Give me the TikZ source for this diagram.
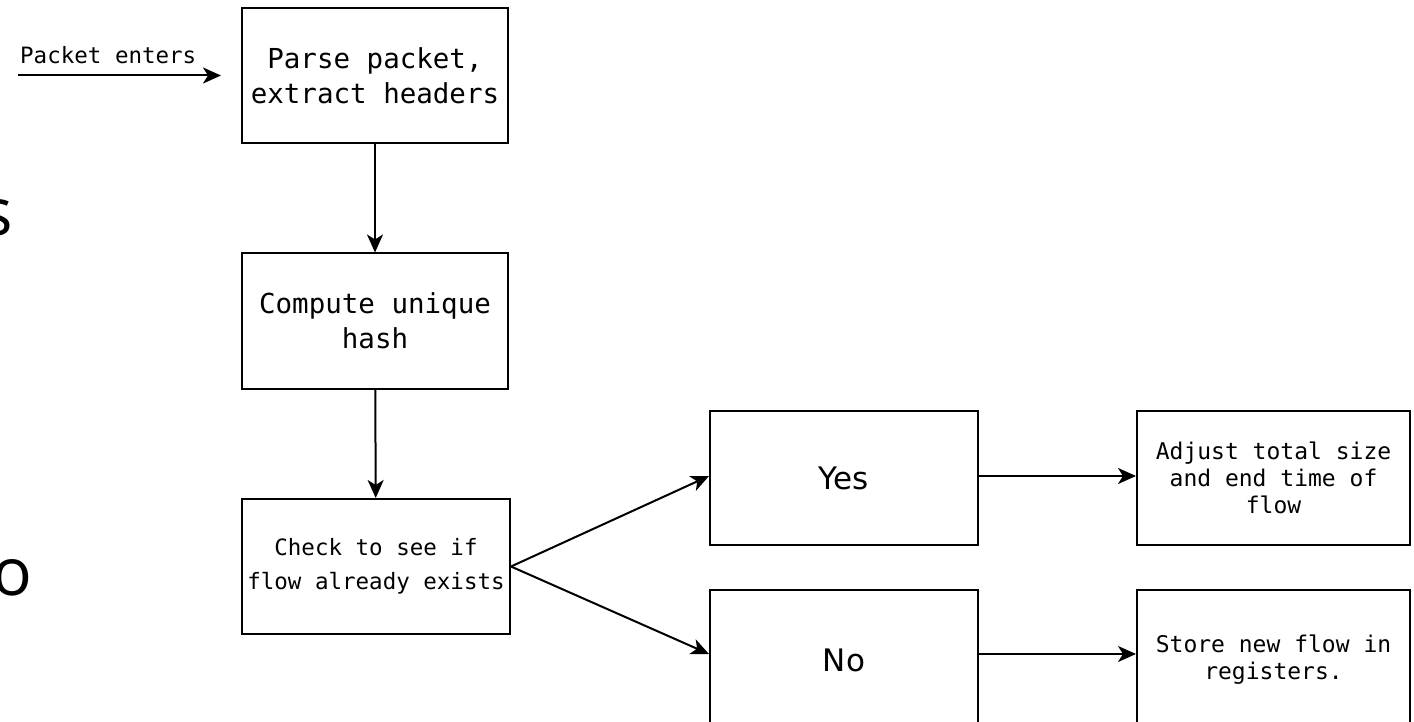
\documentclass[tikz,border=0pt]{standalone}
\usepackage{fontspec}
\usetikzlibrary{arrows.meta}
\newfontfamily\monof{DejaVu Sans Mono}
\newfontfamily\sansf{DejaVu Sans}
\newfontfamily\bigf{Open Sans}
\tikzset{
  box/.style={draw=black, line width=2pt, fill=white, inner sep=0pt, align=center, text=black},
  bigbox/.style={box, minimum width=266pt, minimum height=135pt, font=\monof\fontsize{27.5}{35}\selectfont},
  midbox/.style={box, minimum width=268pt, minimum height=135pt, font=\monof\fontsize{22.5}{34}\selectfont},
  smallbox/.style={box, minimum width=273pt, minimum height=134pt, font=\monof\fontsize{23}{27}\selectfont},
  ansbox/.style={box, minimum width=268pt, minimum height=134pt, font=\sansf\fontsize{31}{36}\selectfont},
  conn/.style={line width=2pt, draw=black, -{Stealth[length=18pt,width=16pt,inset=5pt]}},
  lbl/.style={font=\monof\fontsize{22.5}{27}\selectfont, text=black, inner sep=0pt},
  cut/.style={font=\bigf\fontsize{66}{70}\selectfont, inner sep=0pt, text=black}
}
\begin{document}
\begin{tikzpicture}[x=1pt, y=-1pt]
\useasboundingbox (0,0) rectangle (1414,722);
\fill[white] (0,0) rectangle (1414,722);

\node[cut, anchor=base east] (cs) at (13,236) {s};
\node[cut, anchor=base east] (co) at (33,595) {o};

\node[bigbox] (parse) at (375,75.5) {Parse packet,\\extract headers};
\node[bigbox] (hash) at (375,321) {Compute unique\\hash};
\node[midbox] (check) at (376,566.5) {Check to see if\\flow already exists};
\node[ansbox] (yes) at (844,478) {Yes};
\node[ansbox, minimum height=140pt] (no) at (844,660) {No};
\node[smallbox] (adjust) at (1273.5,478) {Adjust total size\\and end time of\\flow};
\node[smallbox, minimum height=140pt] (store) at (1273.5,660) {Store new flow in\\registers.};

\coordinate (in) at (18,75.5);
\coordinate (inend) at (221,75.5);
\node[lbl, anchor=base west] (pe) at (20,64) {Packet enters};

\draw[conn] (in) -- (inend);
\draw[conn] (parse) -- (hash);
\draw[conn] (hash) -- (check);
\draw[conn] (check.east) -- ([yshift=2pt]yes.west);
\draw[conn] (check.east) -- ([yshift=6pt]no.west);
\draw[conn] ([yshift=2pt]yes.east) -- ([yshift=2pt]adjust.west);
\draw[conn] ([yshift=6pt]no.east) -- ([yshift=6pt]store.west);
\end{tikzpicture}
\end{document}
